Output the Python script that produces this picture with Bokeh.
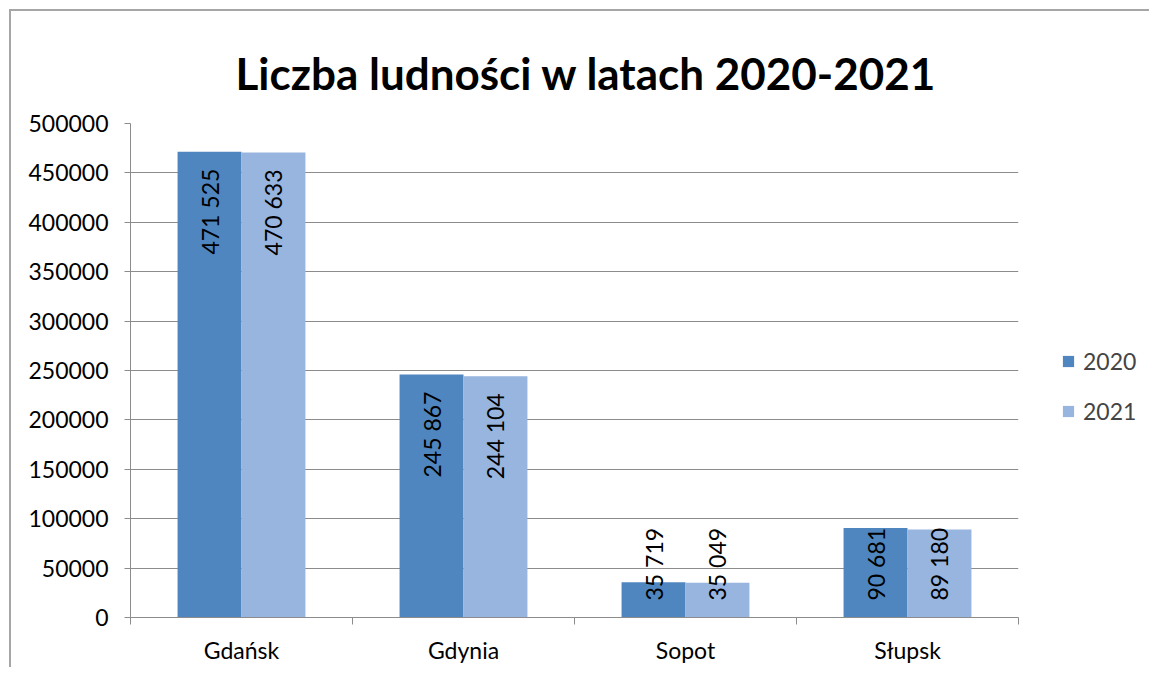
import numpy as np
from bokeh.plotting import figure
from bokeh.models import (ColumnDataSource, FixedTicker, Legend, LegendItem,
                          BasicTickFormatter, Range1d)
from bokeh.core.properties import value
from bokeh.embed import file_html
from bokeh.resources import INLINE

# ---- data ----
cities = ["Gdańsk", "Gdynia", "Sopot", "Słupsk"]
pop_2020 = [471525, 245867, 35719, 90681]
pop_2021 = [470633, 244104, 35049, 89180]
years = ["2020", "2021"]
y_ticks = list(range(0, 500001, 50000))

col_2020 = "#4F86BF"
col_2021 = "#97B5DE"
grid_col = "#8C8C8C"
FONT = "Lato"
FS = "23px"

p = figure(frame_width=888, frame_height=494, output_backend="svg", toolbar_location=None,
           x_range=Range1d(0, 4), y_range=Range1d(0, 500000),
           min_border_left=119, min_border_right=125, min_border_top=112,
           min_border_bottom=50)
p.styles = {"border-top": "2px solid #A6A6A6", "border-left": "2px solid #A6A6A6",
            "margin-left": "9px", "margin-top": "9px"}
p.outline_line_color = None
p.background_fill_color = "white"
p.border_fill_color = "white"

p.title.text = "Liczba ludności w latach 2020-2021"
p.title.text_font = FONT
p.title.text_font_style = "bold"
p.title.text_font_size = "44px"
p.title.align = "left"
p.title.offset = 105
p.title.standoff = 50
p.title.text_color = "black"

centers = np.arange(len(cities)) + 0.5
bw = 0.288
x20 = centers - bw / 2
x21 = centers + bw / 2

src = ColumnDataSource(dict(x20=x20, x21=x21, v20=pop_2020, v21=pop_2021))
r20 = p.vbar(x="x20", top="v20", width=bw, source=src, fill_color=col_2020, line_color=None)
r21 = p.vbar(x="x21", top="v21", width=bw, source=src, fill_color=col_2021, line_color=None)

# ---- data labels (rotated) ----
frame_h = 494
px_per_unit = frame_h / 500000.0
label_len_px = 87
pad = 17

def fmt(v):
    return f"{v:,}".replace(",", " ")

tall_x, tall_y, tall_t = [], [], []
short_x, short_y, short_t = [], [], []
for xs, vals in ((x20, pop_2020), (x21, pop_2021)):
    for xx, vv in zip(xs, vals):
        if vv * px_per_unit >= 2 * pad + label_len_px:
            tall_x.append(xx); tall_y.append(vv); tall_t.append(fmt(vv))
        else:
            short_x.append(xx); short_y.append(0); short_t.append(fmt(vv))

p.text(x=tall_x, y=tall_y, text=tall_t, angle=np.pi / 2, text_align="right",
       text_baseline="middle", y_offset=pad, text_font=value(FONT),
       text_font_size=FS, text_color="black")
p.text(x=short_x, y=short_y, text=short_t, angle=np.pi / 2, text_align="left",
       text_baseline="middle", y_offset=-pad, text_font=value(FONT),
       text_font_size=FS, text_color="black")

# ---- axes ----
xa = p.xaxis[0]
xa.ticker = FixedTicker(ticks=list(centers), minor_ticks=list(range(len(cities) + 1)))
xa.major_label_overrides = {float(c): n for c, n in zip(centers, cities)}
xa.major_tick_line_color = None
xa.major_tick_out = 0
xa.major_tick_in = 0
xa.minor_tick_out = 7
xa.minor_tick_in = 0
xa.minor_tick_line_color = grid_col
xa.axis_line_color = grid_col
xa.major_label_standoff = 11
xa.major_label_text_font = FONT
xa.major_label_text_font_size = FS
xa.major_label_text_color = "black"

ya = p.yaxis[0]
ya.ticker = FixedTicker(ticks=y_ticks)
ya.formatter = BasicTickFormatter(use_scientific=False)
ya.major_tick_out = 6
ya.major_tick_in = 0
ya.minor_tick_line_color = None
ya.major_tick_line_color = grid_col
ya.axis_line_color = grid_col
ya.major_label_standoff = 16
ya.major_label_text_font = FONT
ya.major_label_text_font_size = FS
ya.major_label_text_color = "black"

p.xgrid.grid_line_color = None
p.ygrid.ticker = FixedTicker(ticks=y_ticks)
p.ygrid.grid_line_color = grid_col
p.ygrid.grid_line_width = 1

# ---- legend ----
legend = Legend(items=[LegendItem(label=years[0], renderers=[r20]),
                       LegendItem(label=years[1], renderers=[r21])],
                location=(43, 192), orientation="vertical",
                glyph_width=14, glyph_height=14, label_height=27, spacing=22,
                label_standoff=8, padding=0, margin=0,
                border_line_color=None, background_fill_alpha=0,
                label_text_font=FONT, label_text_font_size=FS)
p.add_layout(legend, "right")

open("out.html", "w").write(file_html(p, INLINE))
